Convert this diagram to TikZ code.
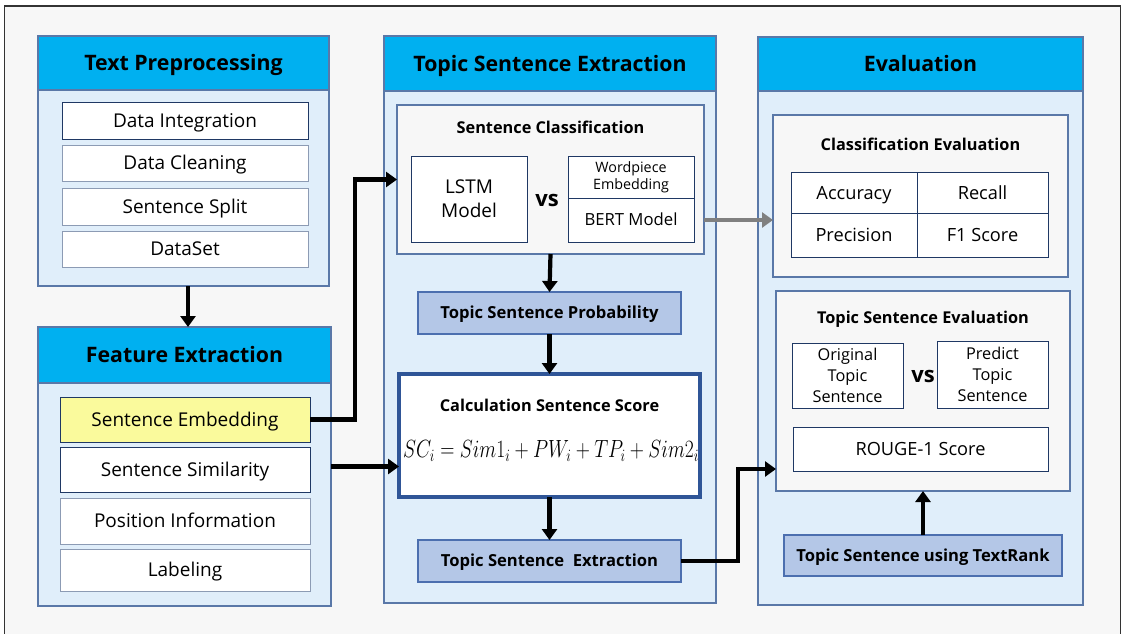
\documentclass[tikz,border=0pt]{standalone}
\usepackage{fontspec}
\setmainfont{Open Sans}
\usetikzlibrary{arrows.meta,calc}

\definecolor{pagebg}{HTML}{F7F7F7}
\definecolor{headblue}{HTML}{00B0F0}
\definecolor{panelbody}{HTML}{E0EEFA}
\definecolor{panelline}{HTML}{5A78A8}
\definecolor{itemline}{HTML}{8C9BB4}
\definecolor{navyline}{HTML}{1F3864}
\definecolor{subfill}{HTML}{F7F7F7}
\definecolor{labelfill}{HTML}{B4C7E7}
\definecolor{labelline}{HTML}{4C6FAF}
\definecolor{calcline}{HTML}{2F5597}
\definecolor{embedyellow}{HTML}{FAFA9C}
\definecolor{greyarrow}{HTML}{808080}

% font size and line distance
\newcommand{\fs}[2]{\fontsize{#1}{#2}\selectfont}

\tikzset{
  box/.style={anchor=north west, inner sep=0pt, outer sep=0pt, align=center},
  % centre the capitals of a one-line label in its box
  capcentre/.style={text height=#1, text depth=0pt},
  panel/.style={box, draw=panelline, fill=panelbody, line width=1.2pt},
  headbar/.style={box, capcentre=15.2pt, draw=panelline, fill=headblue, line width=1.2pt, font=\bfseries\fs{21.3}{25}},
  item/.style={box, capcentre=13.6pt, draw=itemline, fill=white, line width=1pt, font=\fs{19}{23}},
  navyitem/.style={item, draw=navyline},
  subpanel/.style={box, draw=panelline, fill=subfill, line width=1.1pt},
  subtitle/.style={capcentre=11.6pt, font=\bfseries\fs{16.3}{19}, inner sep=0pt},
  cell/.style={box, capcentre=13pt, draw=navyline, fill=white, line width=1pt, font=\fs{18.2}{22}},
  multicell/.style={box, draw=navyline, fill=white, line width=1pt},
  labelbox/.style={box, capcentre=11.9pt, draw=labelline, fill=labelfill, line width=1.1pt, font=\bfseries\fs{16.6}{20}},
  vslabel/.style={font=\bfseries\fs{22}{24}, inner sep=0pt},
  arr/.style={line width=4.2pt, -{Triangle[width=15pt,length=11pt]}},
  arrgrey/.style={line width=4.2pt, draw=greyarrow, -{Triangle[width=15pt,length=11pt,fill=greyarrow]}},
}

\begin{document}
\begin{tikzpicture}[x=1pt,y=-1pt]
\useasboundingbox (0,0) rectangle (1122,633);
\fill[white] (0,0) rectangle (1122,633);
% page frame
\draw[fill=pagebg, draw=black!80, line width=1.6pt] (4.5,6) rectangle (1120.5,650);

% ---------- Text Preprocessing ----------
\node[panel, minimum width=291pt, minimum height=250pt] (tp) at (38,36) {};
\node[headbar, minimum width=291pt, minimum height=54pt] (tph) at (38,36) {Text Preprocessing};
\node[navyitem, minimum width=246pt, minimum height=37pt] (di) at (62,102) {Data Integration};
\node[item, minimum width=246pt, minimum height=36pt] (dc) at (62,145) {Data Cleaning};
\node[item, minimum width=246pt, minimum height=37pt] (ss) at (62,188) {Sentence Split};
\node[item, minimum width=246pt, minimum height=36pt] (ds) at (62,231) {DataSet};

% ---------- Feature Extraction ----------
\node[panel, minimum width=293pt, minimum height=279pt] (fe) at (38,327) {};
\node[headbar, minimum width=293pt, minimum height=56pt] (feh) at (38,327) {Feature Extraction};
\node[navyitem, fill=embedyellow, minimum width=250pt, minimum height=45pt] (se) at (60,397) {Sentence Embedding};
\node[navyitem, minimum width=250pt, minimum height=45pt] (ssim) at (60,447) {Sentence Similarity};
\node[item, minimum width=250pt, minimum height=46pt] (pi) at (60,498) {Position Information};
\node[item, minimum width=250pt, minimum height=42pt] (lab) at (60,549) {Labeling};

% ---------- Topic Sentence Extraction ----------
\node[panel, minimum width=332pt, minimum height=567pt] (tse) at (384,36) {};
\node[headbar, minimum width=332pt, minimum height=55pt] (tseh) at (384,36) {Topic Sentence Extraction};
\node[subpanel, minimum width=307pt, minimum height=149pt] (sc) at (397,105) {};
\node[subtitle] (sct) at (550.5,128) {Sentence Classification};
\node[multicell, minimum width=116pt, minimum height=86pt, font=\fs{19}{24}] (lstm) at (411,156) {LSTM\\Model};
\node[vslabel] (vs1) at (547,200) {vs};
\node[multicell, minimum width=126pt, minimum height=42pt, font=\fs{14.3}{17}] (wp) at (568,156) {Wordpiece\\Embedding};
\node[cell, capcentre=11.9pt, minimum width=126pt, minimum height=44pt, font=\fs{16.7}{20}] (bert) at (568,198) {BERT Model};
\node[labelbox, minimum width=263pt, minimum height=42pt] (tsp) at (418,292) {Topic Sentence Probability};
\node[box, draw=calcline, fill=white, line width=3.2pt, minimum width=301pt, minimum height=123pt] (calc) at (399,374) {};
\node[subtitle] (calct) at (549.5,406) {Calculation Sentence Score};
\node[inner sep=0pt, font=\fs{24}{28}] (formula) at (551,451)
  {\scalebox{0.79}[1]{$SC_i = Sim1_i + PW_i + TP_i + Sim2_i$}};
\node[labelbox, minimum width=263pt, minimum height=42pt] (tsex) at (418,540) {Topic Sentence\ \ Extraction};

% ---------- Evaluation ----------
\node[panel, minimum width=325pt, minimum height=568pt] (ev) at (758,37) {};
\node[headbar, minimum width=325pt, minimum height=54pt] (evh) at (758,37) {Evaluation};
\node[subpanel, minimum width=295pt, minimum height=162pt] (ce) at (773,115) {};
\node[subtitle] (cet) at (920.5,145) {Classification Evaluation};
\node[cell, minimum width=126pt, minimum height=41pt] (acc) at (791,172) {Accuracy};
\node[cell, minimum width=131pt, minimum height=41pt] (rec) at (917,172) {Recall};
\node[cell, minimum width=126pt, minimum height=44pt] (prec) at (791,213) {Precision};
\node[cell, minimum width=131pt, minimum height=44pt] (f1) at (917,213) {F1 Score};
\node[subpanel, minimum width=294pt, minimum height=200pt] (tsev) at (776,291) {};
\node[subtitle] (tsevt) at (923,318) {Topic Sentence Evaluation};
\node[multicell, minimum width=111pt, minimum height=65pt, font=\fs{16.3}{21}] (orig) at (792,343) {Original\\Topic\\Sentence};
\node[vslabel] (vs2) at (923,376) {vs};
\node[multicell, minimum width=111pt, minimum height=67pt, font=\fs{16.3}{21}] (pred) at (937,341) {Predict\\Topic\\Sentence};
\node[cell, minimum width=255pt, minimum height=44pt] (rouge) at (793,427) {ROUGE-1 Score};
\node[labelbox, minimum width=278pt, minimum height=41pt] (trank) at (784,535) {Topic Sentence using TextRank};

% ---------- connectors ----------
\draw[arr] ([xshift=4.5pt]tp.south) -- ([xshift=4.5pt]tp.south |- fe.north);
\draw[arr] (se.east) -- ++(45,0) |- (sc.west);
\draw[arr] (fe.east) -- (fe.east -| calc.west);
\draw[arrgrey] (bert.east -| sc.east) -- (bert.east -| ce.west);
\draw[arr] (sc.south) -- (tsp.north);
\draw[arr] (tsp.south) -- (calc.north);
\draw[arr] (calc.south) -- (tsex.north);
\draw[arr] (tsex.east) -- ++(57,0) |- ([yshift=-78pt]tsev.west);
\draw[arr] (trank.north) -- (tsev.south);
\end{tikzpicture}
\end{document}
